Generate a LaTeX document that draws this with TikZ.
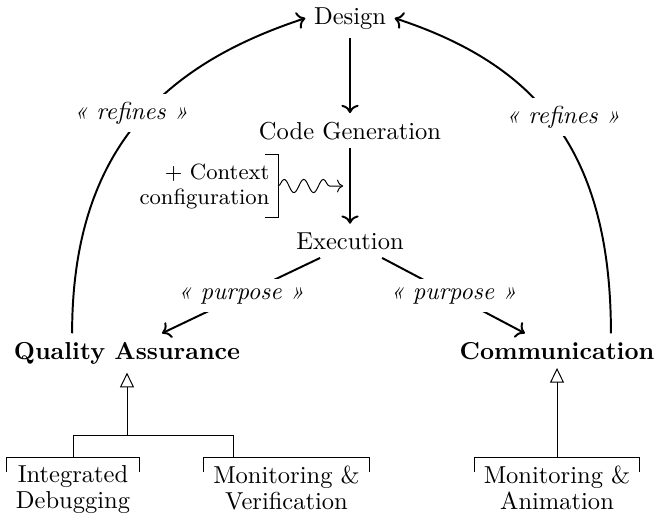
\documentclass[tikz,border=0pt]{standalone}
\usepackage{fontspec}
\usetikzlibrary{arrows.meta,decorations.pathmorphing,calc}

\begin{document}
\begin{tikzpicture}[x=0.408pt,y=-0.408pt,
  concept/.style={font=\bfseries},
  flow/.style={thick,->},
  stereo/.style={font=\itshape,fill=white},
  genline/.style={thin},
  gen/.style={thin,-{Triangle[open,width=5.7pt,length=6pt]}},
  leaf/.style={align=center,inner xsep=3.6pt},
  wave/.style={thin,->,decorate,
    decoration={snake,amplitude=2.7pt,segment length=8pt,post length=2pt}},
]
\useasboundingbox (0,0) rectangle (655,515);

% activities of the generation chain
\node[anchor=base] (design) at (350,24) {Design};
\node[anchor=base] (cg) at (350,139) {Code Generation};
\node[anchor=base] (exec) at (350,249) {Execution};

% purposes
\node[concept,anchor=base] (qa) at (127,359) {Quality Assurance};
\node[concept,anchor=base] (comm) at (557,359) {Communication};

% extra input of the generator
\node[font=\small,align=right,anchor=east] (ctx) at (278,186)
  {+ Context\\[-0.8pt]configuration};
\draw[thin] ([xshift=-5.3pt]ctx.north east) -- (ctx.north east)
  -- (ctx.south east) -- ([xshift=-5.3pt]ctx.south east);
\draw[wave] (ctx.east) -- ($(ctx.east -| cg.south)+(-2.8pt,0)$);

% concrete uses
\node[leaf,anchor=north] (dbg) at (73,457) {Integrated\\[-1.4pt]Debugging};
\node[leaf,anchor=north] (mver) at (286.5,457) {Monitoring \&\\[-1.4pt]Verification};
\node[leaf,anchor=north] (mani) at (557,457) {Monitoring \&\\[-1.4pt]Animation};
\foreach \n in {dbg,mver,mani}
  \draw[genline] ([yshift=-6pt]\n.north west) -- (\n.north west)
    -- (\n.north east) -- ([yshift=-6pt]\n.north east);

% main flow
\draw[flow] (design) -- (cg);
\draw[flow] (cg) -- (exec);
\draw[flow] ([xshift=-12.2pt]exec.south) -- node[stereo] (pl) {« purpose »}
  ([xshift=14.3pt]qa.north);
\draw[flow] ([xshift=13.1pt]exec.south) -- node[stereo] (pr) {« purpose »}
  ([xshift=-13.1pt]comm.north);

% refinement back to design
\draw[flow] ([xshift=-22.4pt]qa.north) .. controls +(0,-185) and +(-140,46) .. (design.west);
\draw[flow] ([xshift=22pt]comm.north) .. controls +(0,-185) and +(140,46) .. (design.east);
\node[stereo] (rl) at (131,113) {« refines »};
\node[stereo] (rr) at (563,117) {« refines »};

% generalisations
\coordinate (qaj) at (127,435);
\draw[genline] (dbg.north) |- (qaj);
\draw[genline] ([xshift=-21.8pt]mver.north) |- (qaj);
\draw[gen] (qaj) -- (qaj |- qa.south);
\draw[gen] (mani.north) -- (comm.south);
\end{tikzpicture}
\end{document}
